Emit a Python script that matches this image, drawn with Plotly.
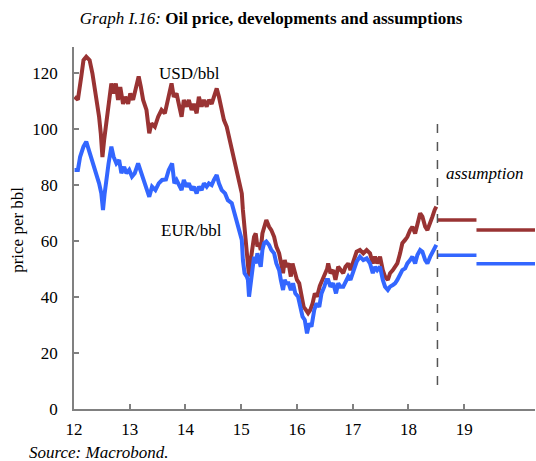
import plotly.graph_objects as go

# ---- data (decimal years, USD/bbl and EUR/bbl) ----
usd_t = [12.01, 12.07, 12.13, 12.17, 12.22, 12.28, 12.33, 12.37, 12.41, 12.45, 12.48, 12.51, 12.54, 12.58,
         12.62, 12.67, 12.71, 12.75, 12.79, 12.83, 12.88, 12.92, 12.97, 13.01, 13.06, 13.11, 13.16, 13.20,
         13.24, 13.30, 13.35, 13.39, 13.45, 13.51, 13.57, 13.63, 13.69, 13.75, 13.79, 13.84, 13.89, 13.93,
         13.97, 14.02, 14.06, 14.11, 14.15, 14.20, 14.24, 14.29, 14.33, 14.38, 14.42, 14.47, 14.51, 14.56,
         14.60, 14.65, 14.69, 14.74, 14.78, 14.83, 14.85, 14.89, 14.93, 14.97, 15.01, 15.03, 15.06, 15.10,
         15.12, 15.14, 15.17, 15.20, 15.23, 15.26, 15.29, 15.32, 15.35, 15.38, 15.41, 15.45, 15.50, 15.54,
         15.59, 15.63, 15.68, 15.71, 15.75, 15.78, 15.81, 15.85, 15.89, 15.92, 15.96, 16.00, 16.04, 16.08,
         16.12, 16.16, 16.20, 16.24, 16.28, 16.32, 16.36, 16.41, 16.46, 16.50, 16.54, 16.56, 16.60, 16.65,
         16.69, 16.74, 16.78, 16.83, 16.87, 16.92, 16.96, 17.01, 17.07, 17.13, 17.19, 17.25, 17.31, 17.36,
         17.40, 17.44, 17.49, 17.54, 17.58, 17.63, 17.67, 17.72, 17.76, 17.80, 17.85, 17.89, 17.94, 17.98,
         18.03, 18.07, 18.12, 18.16, 18.21, 18.25, 18.30, 18.34, 18.39, 18.43, 18.47, 18.50]
usd_v = [111.5, 110.5, 118.7, 124.6, 125.8, 124.6, 119.9, 115.0, 109.0, 104.4, 98.5, 90.0, 96.0, 102.0,
         108.0, 116.3, 112.7, 116.3, 110.4, 115.0, 109.0, 111.5, 109.0, 112.7, 110.4, 115.0, 118.8, 115.0,
         110.4, 106.8, 98.5, 102.0, 100.8, 104.4, 106.8, 105.6, 110.4, 116.3, 111.5, 112.7, 108.0, 104.4,
         110.4, 108.0, 110.4, 106.8, 109.0, 105.6, 111.5, 108.0, 110.4, 108.0, 110.4, 109.0, 111.5, 114.5,
         111.5, 106.8, 103.2, 100.8, 97.3, 92.5, 91.0, 87.7, 83.0, 80.6, 77.0, 71.1, 65.1, 58.0,
         53.2, 47.3, 53.2, 58.0, 61.5, 62.7, 58.0, 59.2, 56.8, 62.7, 65.1, 67.5, 65.1, 63.9,
         61.5, 58.0, 55.6, 52.0, 48.5, 53.2, 50.8, 52.0, 47.3, 52.0, 48.5, 46.1, 44.9, 40.1,
         36.5, 35.4, 34.2, 35.4, 37.7, 41.3, 40.1, 44.0, 46.5, 48.5, 50.0, 52.0, 48.5, 49.6,
         46.1, 50.8, 49.6, 48.5, 50.8, 52.0, 49.6, 53.2, 56.2, 56.8, 55.6, 56.8, 55.6, 52.0,
         54.4, 52.0, 54.4, 49.6, 47.3, 46.1, 48.5, 49.6, 50.8, 52.0, 55.6, 59.2, 60.4, 61.5,
         63.9, 65.1, 62.7, 66.3, 69.9, 68.7, 65.1, 63.9, 66.3, 68.7, 71.1, 72.3]

eur_t = [12.01, 12.07, 12.11, 12.17, 12.22, 12.27, 12.31, 12.35, 12.40, 12.45, 12.49, 12.52, 12.55, 12.58,
         12.62, 12.67, 12.71, 12.76, 12.81, 12.85, 12.90, 12.94, 12.99, 13.04, 13.09, 13.15, 13.19, 13.24,
         13.30, 13.35, 13.40, 13.46, 13.52, 13.58, 13.65, 13.70, 13.76, 13.80, 13.84, 13.89, 13.93, 13.97,
         14.02, 14.06, 14.11, 14.15, 14.20, 14.24, 14.29, 14.33, 14.38, 14.42, 14.47, 14.51, 14.56, 14.60,
         14.65, 14.71, 14.76, 14.83, 14.89, 14.93, 14.97, 15.01, 15.03, 15.06, 15.10, 15.12, 15.14, 15.17,
         15.20, 15.23, 15.26, 15.29, 15.32, 15.35, 15.38, 15.41, 15.45, 15.50, 15.54, 15.59, 15.63, 15.68,
         15.71, 15.75, 15.78, 15.81, 15.85, 15.89, 15.93, 15.97, 16.02, 16.06, 16.10, 16.14, 16.18, 16.22,
         16.26, 16.31, 16.35, 16.40, 16.44, 16.49, 16.53, 16.56, 16.60, 16.65, 16.70, 16.74, 16.78, 16.83,
         16.88, 16.92, 16.96, 17.01, 17.07, 17.13, 17.19, 17.25, 17.31, 17.36, 17.40, 17.44, 17.49, 17.54,
         17.58, 17.63, 17.67, 17.72, 17.76, 17.80, 17.85, 17.89, 17.94, 17.98, 18.03, 18.07, 18.12, 18.16,
         18.21, 18.25, 18.30, 18.34, 18.39, 18.43, 18.47, 18.50]
eur_v = [85.4, 85.4, 90.1, 93.7, 95.5, 92.5, 90.1, 87.7, 84.2, 80.6, 77.0, 71.1, 77.0, 83.0,
         87.7, 93.7, 90.1, 87.7, 88.9, 84.2, 86.5, 84.2, 85.4, 83.0, 84.2, 87.7, 85.4, 83.0,
         79.4, 75.8, 79.4, 78.2, 80.6, 81.8, 82.0, 85.4, 87.7, 80.6, 81.8, 79.4, 78.2, 81.8,
         79.4, 80.6, 78.2, 79.4, 77.0, 79.4, 78.2, 80.6, 79.4, 80.6, 80.0, 81.8, 83.6, 80.6,
         78.2, 77.0, 74.6, 73.5, 68.7, 66.3, 62.7, 60.4, 53.2, 48.5, 47.3, 46.1, 40.1, 44.9,
         52.0, 54.4, 52.0, 55.6, 53.2, 50.8, 56.8, 59.2, 59.8, 58.6, 56.8, 55.6, 52.0, 49.6,
         46.1, 42.5, 46.1, 44.9, 44.9, 42.5, 44.9, 41.3, 40.1, 36.5, 33.0, 31.8, 27.0, 30.6,
         29.4, 35.4, 37.7, 36.5, 41.3, 43.7, 46.1, 46.1, 43.7, 44.9, 41.3, 44.9, 43.7, 43.7,
         46.1, 47.3, 46.1, 49.6, 52.6, 54.4, 53.2, 53.8, 52.0, 48.5, 50.8, 49.6, 50.8, 46.1,
         43.7, 42.5, 43.7, 44.3, 44.9, 46.1, 48.5, 49.6, 50.2, 52.0, 53.2, 54.4, 52.0, 55.0,
         56.8, 56.2, 53.2, 52.0, 54.4, 56.2, 58.0, 58.6]

# assumption periods and levels
assume_edges = [18.52, 19.22, 20.27]
usd_assume = [67.5, 63.9]
eur_assume = [54.9, 51.9]
assumption_start = 18.52

x_ticks = [12, 13, 14, 15, 16, 17, 18, 19]
y_ticks = [0, 20, 40, 60, 80, 100, 120]

RED = "#993333"
BLUE = "#3366ff"
FONT = "Liberation Serif"
FS = 17

fig = go.Figure()
fig.add_trace(go.Scatter(x=usd_t, y=usd_v, mode="lines",
                         line=dict(color=RED, width=4), hoverinfo="skip"))
fig.add_trace(go.Scatter(x=eur_t, y=eur_v, mode="lines",
                         line=dict(color=BLUE, width=4), hoverinfo="skip"))

for i, v in enumerate(usd_assume):
    fig.add_trace(go.Scatter(x=[assume_edges[i], assume_edges[i + 1]], y=[v, v], mode="lines",
                             line=dict(color=RED, width=3.5), hoverinfo="skip"))
for i, v in enumerate(eur_assume):
    fig.add_trace(go.Scatter(x=[assume_edges[i], assume_edges[i + 1]], y=[v, v], mode="lines",
                             line=dict(color=BLUE, width=3.5), hoverinfo="skip"))

fig.add_shape(type="line", x0=assumption_start, x1=assumption_start, y0=8.6, y1=103.2,
              xref="x", yref="y", line=dict(color="#555555", width=1.5, dash="dash"))

fig.update_layout(
    width=536, height=461,
    margin=dict(l=74, r=1, t=47, b=52),
    paper_bgcolor="white", plot_bgcolor="white",
    showlegend=False,
    font=dict(family=FONT, size=FS, color="black"),
    title=dict(text="<i>Graph I.16:</i> <b>Oil price, developments and assumptions</b>",
               x=271 / 536, xanchor="center", y=1 - 18 / 461, yanchor="middle",
               yref="container", font=dict(family=FONT, size=17, color="black")),
    xaxis=dict(range=[12, 20.27], tickvals=x_ticks, ticktext=[str(v) for v in x_ticks],
               ticks="inside", ticklen=5, tickcolor="#808080", tickwidth=1.5,
               showline=True, linecolor="#808080", linewidth=1.5,
               showgrid=False, zeroline=False, ticklabelstandoff=4,
               tickfont=dict(family=FONT, size=FS, color="black")),
    yaxis=dict(range=[0, 129.3], tickvals=y_ticks,
               ticks="inside", ticklen=5, tickcolor="#808080", tickwidth=1.5,
               showline=True, linecolor="#808080", linewidth=1.5,
               showgrid=False, zeroline=False, ticklabelstandoff=11,
               tickfont=dict(family=FONT, size=FS, color="black")),
    annotations=[
        dict(text="USD/bbl", x=14.08, y=120, xref="x", yref="y", showarrow=False,
             font=dict(family=FONT, size=FS, color="black")),
        dict(text="EUR/bbl", x=14.10, y=63.7, xref="x", yref="y", showarrow=False,
             font=dict(family=FONT, size=FS, color="black")),
        dict(text="<i>assumption</i>", x=19.36, y=84, xref="x", yref="y", showarrow=False,
             font=dict(family=FONT, size=FS, color="black")),
        dict(text="price per bbl", x=(18 - 74) / 461, y=0.495, xref="paper", yref="paper",
             showarrow=False, textangle=-90, xanchor="center", yanchor="middle",
             font=dict(family=FONT, size=FS, color="black")),
        dict(text="<i>Source: Macrobond.</i>", x=(27 - 74) / 461, y=(409 - 452) / 362,
             xref="paper", yref="paper", showarrow=False, xanchor="left", yanchor="middle",
             font=dict(family=FONT, size=FS, color="black")),
    ],
)

fig.write_html("out.html", config={"displayModeBar": False},
               post_script="document.body.style.margin='0';")
